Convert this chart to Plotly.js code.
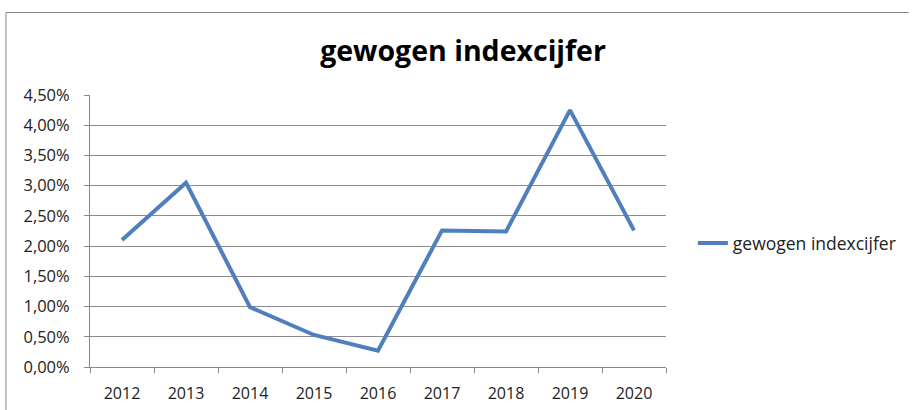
<!DOCTYPE html>
<html>
<head>
<meta charset="utf-8">
<script src="https://cdn.plot.ly/plotly-3.0.1.min.js"></script>
<style>
html,body{margin:0;padding:0;background:#fff;}
#chart{width:913px;height:410px;}
</style>
</head>
<body>
<div id="chart"></div>
<script>
const years = ["2012","2013","2014","2015","2016","2017","2018","2019","2020"];
const values = [0.0210, 0.0305, 0.0099, 0.0053, 0.0027, 0.0226, 0.0224, 0.0425, 0.0226];
const seriesName = "gewogen indexcijfer";
const titleText = "gewogen indexcijfer";

const W = 913, H = 410;
const L = 90, R = 244, T = 95, B = 43;
const pw = W - L - R, ph = H - T - B;
function px(x){ return (x - L) / pw; }
function py(y){ return (H - B - y) / ph; }

const trace = {
  x: years, y: values, type: "scatter", mode: "lines", name: seriesName,
  line: {color: "#4F7FBC", width: 4}
};

const layout = {
  width: W, height: H,
  margin: {l: L, r: R, t: T, b: B, pad: 0},
  paper_bgcolor: "#fff", plot_bgcolor: "#fff",
  separators: ",.",
  font: {family: "Open Sans, sans-serif", size: 15, color: "#222"},
  title: {text: "<b>" + titleText + "</b>", x: 463 / W, xref: "container", xanchor: "center",
          y: 1 - 51 / H, yref: "container", yanchor: "middle",
          font: {family: "Open Sans, sans-serif", size: 28.5, color: "#000"}},
  xaxis: {type: "category", range: [-0.5, 8.5], tickson: "boundaries", ticks: "outside", ticklen: 5, tickcolor: "#888",
          showgrid: false, showline: true, linecolor: "#888", linewidth: 1, zeroline: false,
          ticklabelstandoff: 12,
          tickfont: {size: 16, color: "#222"}, fixedrange: true},
  yaxis: {range: [0, 0.045], dtick: 0.005, tick0: 0, tickformat: ".2%", ticks: "outside", ticklen: 5,
          tickcolor: "#888", showgrid: true, gridcolor: "#8c8c8c", gridwidth: 1, showline: true,
          ticklabelstandoff: 11,
          linecolor: "#888", zeroline: false, tickfont: {size: 16.5, color: "#222"}, fixedrange: true},
  showlegend: true,
  legend: {x: px(696), y: py(243), xanchor: "left", yanchor: "middle", bgcolor: "rgba(0,0,0,0)",
           font: {size: 17.5, color: "#222"}},
  shapes: [
    {type: "line", xref: "paper", yref: "paper", x0: px(5.5), x1: px(913), y0: py(12.5), y1: py(12.5),
     line: {color: "#888", width: 1}},
    {type: "line", xref: "paper", yref: "paper", x0: px(5.5), x1: px(5.5), y0: py(12.5), y1: py(410),
     line: {color: "#888", width: 1}}
  ]
};

Plotly.newPlot("chart", [trace], layout, {displayModeBar: false, staticPlot: true});
</script>
</body>
</html>
